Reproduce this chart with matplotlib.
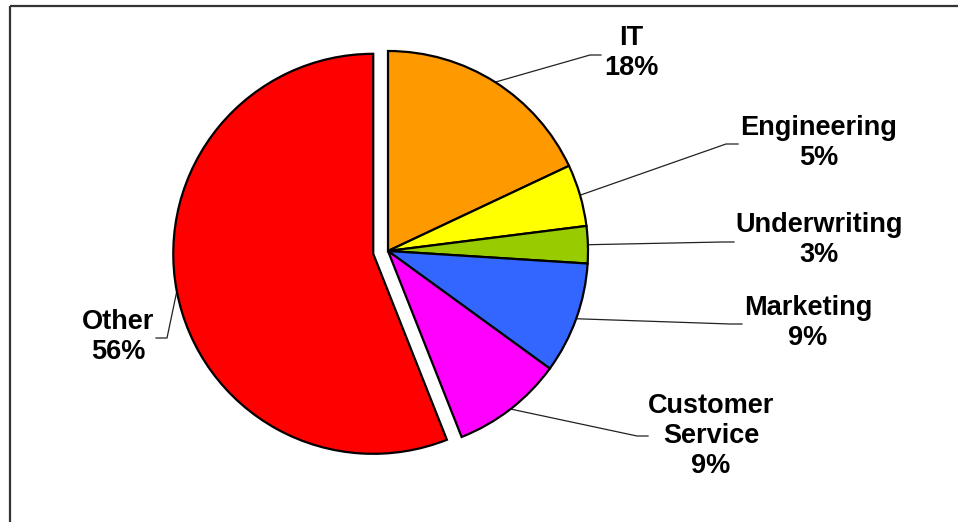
import numpy as np
import matplotlib
matplotlib.use("Agg")
import matplotlib.pyplot as plt

W, H = 958, 522

categories = ["IT", "Engineering", "Underwriting", "Marketing", "Customer Service", "Other"]
shares = [18, 5, 3, 9, 9, 56]
label_texts = ["IT\n18%", "Engineering\n5%", "Underwriting\n3%", "Marketing\n9%",
               "Customer\nService\n9%", "Other\n56%"]
colors = ["#FF9900", "#FFFF00", "#99CC00", "#3366FF", "#FF00FF", "#FF0000"]
# pie offset for the "Other" slice, in pixels
explode = [0, 0, 0, 0, 0, 15]

# label centres and leader-line elbows in pixel coordinates (y downwards)
label_pos = [(631, 53), (819, 143), (819, 240), (808, 323), (711, 436), (118, 337)]
elbows = [
    [(590, 55), (601, 55)],
    [(726, 144), (738, 144)],
    [(722, 242), (734, 242)],
    [(730, 324), (742, 324)],
    [(637, 436), (648, 436)],
    [(167, 338), (156, 338)],
]

fig = plt.figure(figsize=(W / 100, H / 100), dpi=100)
ax = fig.add_axes([0, 0, 1, 1])


def py(y):
    return H - y


wedges, _ = ax.pie(shares, colors=colors, explode=explode, startangle=90,
                   counterclock=False, center=(388, py(251)), radius=200,
                   wedgeprops=dict(edgecolor="black", linewidth=1.6))

for w, txt, (lx, ly), elb in zip(wedges, label_texts, label_pos, elbows):
    mid = np.deg2rad((w.theta1 + w.theta2) / 2)
    cx, cy = w.center
    ax_ = cx + w.r * np.cos(mid)
    ay_ = cy + w.r * np.sin(mid)
    xs = [ax_] + [p[0] for p in elb]
    ys = [ay_] + [py(p[1]) for p in elb]
    ax.plot(xs, ys, color="#222222", lw=0.9, zorder=0.5)
    ax.text(lx, py(ly), txt, ha="center", va="center", fontsize=19.5,
            fontweight="bold", family="Liberation Sans", linespacing=1.2)

# chart border (top and left edges)
ax.plot([10, W], [py(6), py(6)], color="#333333", lw=1.6, solid_capstyle="butt")
ax.plot([10, 10], [py(6), 0], color="#333333", lw=1.6, solid_capstyle="butt")

ax.set_xlim(0, W)
ax.set_ylim(0, H)
ax.set_aspect("auto")
ax.axis("off")

fig.savefig("out.png", dpi=100)
